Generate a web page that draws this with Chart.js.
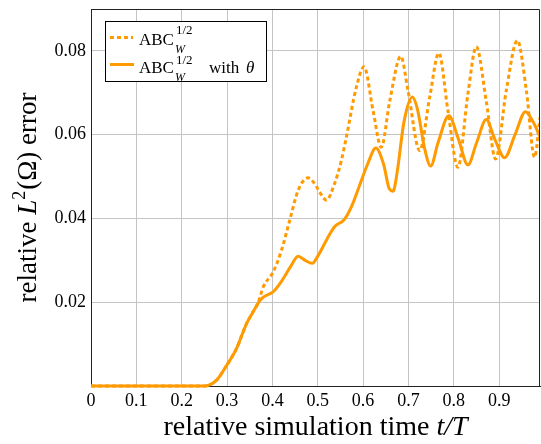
<!DOCTYPE html>
<html>
<head>
<meta charset="utf-8">
<script src="https://cdn.jsdelivr.net/npm/chart.js@4.4.1/dist/chart.umd.min.js"></script>
<style>
html,body{margin:0;padding:0;background:#fff;}
#wrap{width:541px;height:444px;position:relative;}
</style>
</head>
<body>
<div id="wrap"><canvas id="c" width="541" height="444"></canvas></div>
<script>
// ---- data ----
const timeSolid = [0, 0.1, 0.2, 0.25, 0.26, 0.277, 0.299, 0.321, 0.343, 0.3575, 0.3685, 0.38, 0.4016, 0.42, 0.44, 0.4567, 0.472, 0.488, 0.5, 0.52, 0.537, 0.559, 0.575, 0.5925, 0.61, 0.628, 0.645, 0.658, 0.666, 0.675, 0.69, 0.7085, 0.72, 0.735, 0.749, 0.765, 0.789, 0.81, 0.831, 0.85, 0.8715, 0.89, 0.912, 0.935, 0.958, 0.975, 0.99];
const errSolid = [0, 0, 0, 0, 0.0002, 0.0014, 0.0049, 0.009, 0.0149, 0.0177, 0.0198, 0.0212, 0.0225, 0.025, 0.0285, 0.031, 0.03, 0.0293, 0.031, 0.035, 0.038, 0.0398, 0.043, 0.048, 0.053, 0.0568, 0.053, 0.047, 0.0465, 0.051, 0.063, 0.069, 0.066, 0.057, 0.0525, 0.058, 0.0645, 0.059, 0.0528, 0.058, 0.0636, 0.059, 0.0545, 0.06, 0.0655, 0.063, 0.0595];
const timeDashed = [0, 0.1, 0.2, 0.25, 0.26, 0.277, 0.299, 0.321, 0.343, 0.3575, 0.3685, 0.3796, 0.4016, 0.42, 0.438, 0.4567, 0.4787, 0.495, 0.504, 0.519, 0.537, 0.552, 0.563, 0.585, 0.602, 0.622, 0.64, 0.6586, 0.683, 0.699, 0.7247, 0.7467, 0.767, 0.787, 0.809, 0.831, 0.8495, 0.8715, 0.892, 0.9156, 0.94, 0.96, 0.978, 0.99];
const errDashed = [0, 0, 0, 0, 0.0002, 0.0014, 0.0049, 0.009, 0.0149, 0.0177, 0.0198, 0.0236, 0.0272, 0.0324, 0.0395, 0.0467, 0.0497, 0.048, 0.0463, 0.0444, 0.0483, 0.0538, 0.0594, 0.0713, 0.0762, 0.0657, 0.057, 0.068, 0.0787, 0.0705, 0.0562, 0.0689, 0.0795, 0.0657, 0.0522, 0.0697, 0.081, 0.068, 0.0542, 0.0705, 0.0825, 0.0705, 0.0546, 0.0641];
const xTickValues = [0, 0.1, 0.2, 0.3, 0.4, 0.5, 0.6, 0.7, 0.8, 0.9];
const yTickValues = [0.02, 0.04, 0.06, 0.08];
const seriesNames = ['ABC_W^1/2', 'ABC_W^1/2 with θ'];

const ORANGE = '#ff9a00';
const SERIF = '"Liberation Serif", "DejaVu Serif", serif';

function pts(xs, ys){ return xs.map((x,i)=>({x:x, y:ys[i]})); }

const decor = {
  id: 'decor',
  afterDraw(chart){
    const ctx = chart.ctx, a = chart.chartArea;
    ctx.save();
    // frame (top/right)
    ctx.strokeStyle = '#222'; ctx.lineWidth = 1;
    ctx.beginPath();
    ctx.moveTo(Math.round(a.left)+0.5, Math.round(a.top)+0.5);
    ctx.lineTo(Math.round(a.right)-0.5, Math.round(a.top)+0.5);
    ctx.lineTo(Math.round(a.right)-0.5, Math.round(a.bottom)+0.5);
    ctx.stroke();

    // legend box
    ctx.fillStyle = '#fff';
    ctx.fillRect(105.5, 21.5, 161, 60);
    ctx.strokeStyle = '#000';
    ctx.strokeRect(105.5, 21.5, 161, 60);
    ctx.strokeStyle = ORANGE; ctx.lineWidth = 3;
    ctx.setLineDash([4,3]);
    ctx.beginPath(); ctx.moveTo(110, 37.5); ctx.lineTo(133, 37.5); ctx.stroke();
    ctx.setLineDash([]);
    ctx.beginPath(); ctx.moveTo(110, 64.5); ctx.lineTo(134, 64.5); ctx.stroke();

    ctx.fillStyle = '#000';
    ctx.textBaseline = 'alphabetic'; ctx.textAlign = 'left';
    function abc(x, base, supOff){
      ctx.font = '17px ' + SERIF;
      ctx.fillText('ABC', x, base);
      let w = ctx.measureText('ABC').width;
      ctx.font = '13px ' + SERIF;
      ctx.fillText('1/2', x + w + 2, base - supOff);
      const ws = ctx.measureText('1/2').width;
      ctx.font = 'italic 12px ' + SERIF;
      ctx.fillText('W', x + w + 1, base + 8);
      const wb = ctx.measureText('W').width;
      return x + w + 1 + Math.max(ws, wb);
    }
    abc(139, 45, 11);
    abc(139, 73, 9);
    ctx.font = '17px ' + SERIF;
    ctx.fillText('with', 209, 73);
    ctx.font = 'italic 17px ' + SERIF;
    ctx.fillText('θ', 246, 73);

    // x title
    const xParts = [['relative simulation time ', '28px '], ['t/T', 'italic 28px ']];
    let tw = 0;
    xParts.forEach(p => { ctx.font = p[1] + SERIF; tw += ctx.measureText(p[0]).width; });
    let cx = (a.left + a.right)/2 - tw/2;
    xParts.forEach(p => { ctx.font = p[1] + SERIF; ctx.fillText(p[0], cx, 435); cx += ctx.measureText(p[0]).width; });

    // y title
    ctx.translate(36, (a.top + a.bottom)/2);
    ctx.rotate(-Math.PI/2);
    const yParts = [['relative ', '27px ', 0], ['L', 'italic 27px ', 0], ['2', '18px ', -11], ['(Ω) error', '27px ', 0]];
    tw = 0;
    yParts.forEach(p => { ctx.font = p[1] + SERIF; tw += ctx.measureText(p[0]).width + (p[0]==='2'?1:0); });
    cx = -tw/2;
    yParts.forEach(p => { ctx.font = p[1] + SERIF; ctx.fillText(p[0], cx, p[2]); cx += ctx.measureText(p[0]).width + (p[0]==='2'?1:0); });
    ctx.restore();
  }
};

new Chart(document.getElementById('c'), {
  type: 'line',
  data: {
    datasets: [
      { label: seriesNames[0], data: pts(timeDashed, errDashed), borderColor: ORANGE, borderWidth: 3, borderDash: [4,3], pointRadius: 0, fill: false, cubicInterpolationMode: 'monotone', clip: {left: 2, top: 2, right: 0, bottom: 3} },
      { label: seriesNames[1], data: pts(timeSolid, errSolid), borderColor: ORANGE, borderWidth: 3, pointRadius: 0, fill: false, cubicInterpolationMode: 'monotone', clip: {left: 2, top: 2, right: 0, bottom: 3} }
    ]
  },
  options: {
    responsive: false,
    animation: false,
    devicePixelRatio: 1,
    layout: { padding: { left: 0, right: 1, top: 9, bottom: 0 } },
    plugins: { legend: { display: false }, tooltip: { enabled: false } },
    scales: {
      x: {
        type: 'linear', min: 0, max: 0.99,
        afterBuildTicks: s => { s.ticks = xTickValues.map(v => ({value: v})); },
        afterFit: s => { s.height = 58; s.paddingLeft = 0; s.paddingRight = 0; },
        ticks: { font: { family: SERIF, size: 18 }, color: '#000', padding: 4, maxRotation: 0,
                 callback: v => v === 0 ? '0' : v.toFixed(1) },
        grid: { color: '#c4c4c4', lineWidth: 1, drawTicks: false },
        border: { color: '#222', width: 1 }
      },
      y: {
        type: 'linear', min: 0, max: 0.09,
        afterBuildTicks: s => { s.ticks = yTickValues.map(v => ({value: v})); },
        afterFit: s => { s.width = 91; s.paddingTop = 0; s.paddingBottom = 0; },
        ticks: { font: { family: SERIF, size: 18 }, color: '#000', padding: 5,
                 callback: v => v.toFixed(2) },
        grid: { color: '#c4c4c4', lineWidth: 1, drawTicks: false },
        border: { color: '#222', width: 1 }
      }
    }
  },
  plugins: [decor]
});
</script>
</body>
</html>
